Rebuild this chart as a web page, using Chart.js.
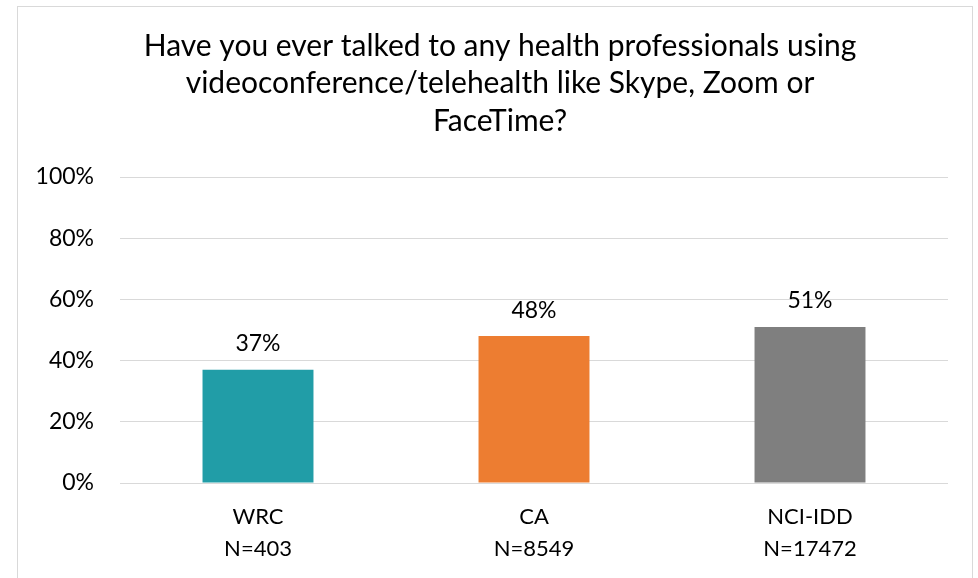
<!DOCTYPE html>
<html>
<head>
<meta charset="utf-8">
<script src="https://cdn.jsdelivr.net/npm/chart.js@4"></script>
<style>
  html, body { margin: 0; padding: 0; background: #fff; }
  #wrap { width: 978px; height: 578px; position: relative; }
</style>
</head>
<body>
<div id="wrap"><canvas id="chart" width="978" height="578"></canvas></div>
<script>
// chart data
const groups = ['WRC', 'CA', 'NCI-IDD'];
const sampleSizes = ['N=403', 'N=8549', 'N=17472'];
const percentYes = [37, 48, 51];
const barColors = ['#219DA7', '#ED7D31', '#7F7F7F'];
const titleLines = [
  'Have you ever talked to any health professionals using',
  'videoconference/telehealth like Skype, Zoom or',
  'FaceTime?'
];

const FONT = 'Lato, Carlito, Calibri, sans-serif';

// outer frame + title, centred on the frame like the Excel chart
const framePlugin = {
  id: 'frame',
  beforeDraw(chart) {
    const ctx = chart.ctx;
    ctx.save();
    ctx.strokeStyle = '#d9d9d9';
    ctx.lineWidth = 1;
    ctx.strokeRect(17.5, 6.5, 955, 600);
    ctx.font = '30px ' + FONT;
    ctx.fillStyle = '#000';
    ctx.textAlign = 'center';
    ctx.textBaseline = 'middle';
    titleLines.forEach((line, i) => {
      ctx.fillText(line, 500, 46 + i * 37.5);
    });
    ctx.restore();
  }
};

// value labels above bars
const valueLabels = {
  id: 'valueLabels',
  afterDatasetsDraw(chart) {
    const ctx = chart.ctx;
    const meta = chart.getDatasetMeta(0);
    ctx.save();
    ctx.font = '23px ' + FONT;
    ctx.fillStyle = '#000';
    ctx.textAlign = 'center';
    ctx.textBaseline = 'middle';
    meta.data.forEach((bar, i) => {
      ctx.fillText(percentYes[i] + '%', bar.x, bar.y - 26);
    });
    ctx.restore();
  }
};

new Chart(document.getElementById('chart'), {
  type: 'bar',
  data: {
    labels: groups.map((g, i) => [g, sampleSizes[i]]),
    datasets: [{
      data: percentYes,
      backgroundColor: barColors,
      borderWidth: 0,
      categoryPercentage: 1,
      barPercentage: 0.402
    }]
  },
  options: {
    responsive: false,
    animation: false,
    layout: { padding: { top: 177, right: 30, bottom: 0, left: 0 } },
    plugins: {
      legend: { display: false },
      tooltip: { enabled: false },
      title: { display: false }
    },
    scales: {
      x: {
        grid: { display: false, drawTicks: false },
        border: { display: false },
        ticks: {
          color: '#000',
          padding: 18,
          font: { family: FONT, size: 22, lineHeight: 1.45 }
        },
        afterFit(scale) { scale.height = 95; }
      },
      y: {
        min: 0,
        max: 100,
        grid: { color: '#d9d9d9', lineWidth: 1, drawTicks: false },
        border: { display: false },
        ticks: {
          stepSize: 20,
          color: '#000',
          padding: 26,
          font: { family: FONT, size: 23 },
          callback: v => v + '%'
        },
        afterFit(scale) { scale.width = 120; }
      }
    }
  },
  plugins: [framePlugin, valueLabels]
});
</script>
</body>
</html>
